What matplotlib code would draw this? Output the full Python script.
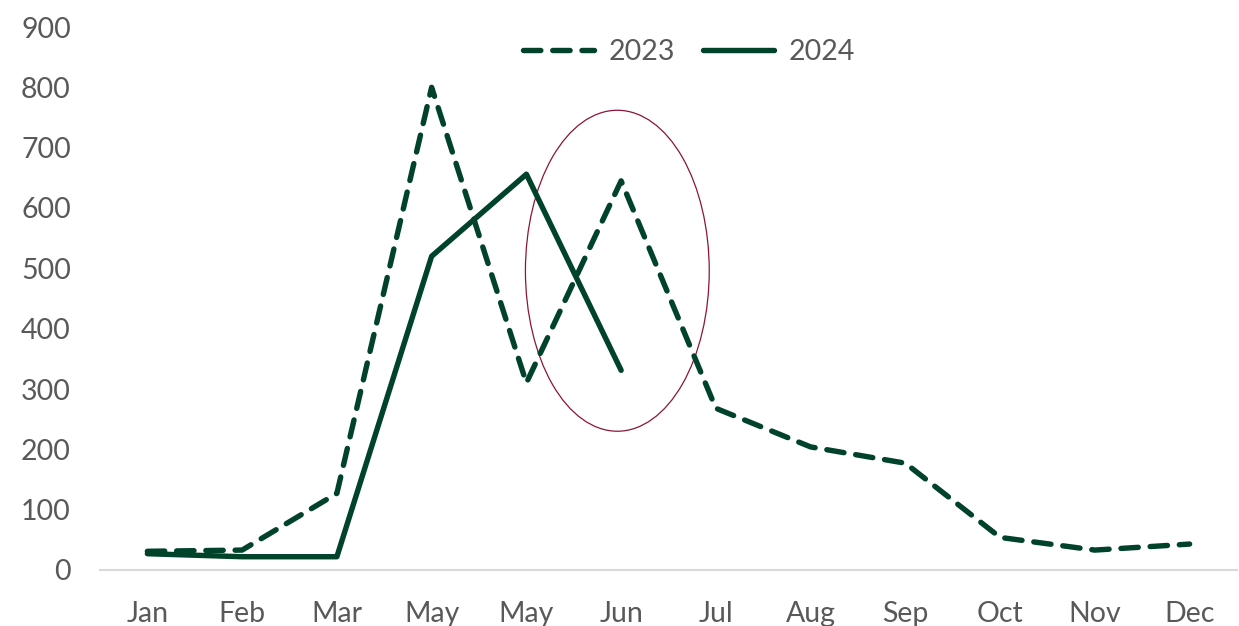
import matplotlib.pyplot as plt
from matplotlib.patches import Ellipse

months = ["Jan", "Feb", "Mar", "May", "May", "Jun", "Jul", "Aug", "Sep", "Oct", "Nov", "Dec"]
sales_2023 = [31, 33, 127, 800, 310, 645, 268, 204, 177, 54, 33, 43]
sales_2024 = [27, 22, 22, 520, 656, 331]

green = "#00432A"
grey = "#595959"

plt.rcParams['font.family'] = ['Lato', 'DejaVu Sans']

fig = plt.figure(figsize=(12.39, 6.26), dpi=100)
ax = fig.add_axes([100 / 1239, 56 / 626, 1137 / 1239, 543 / 626])

x23 = list(range(len(sales_2023)))
x24 = list(range(len(sales_2024)))
ax.plot(x23, sales_2023, color=green, lw=3.9, linestyle=(0, (3.2, 2.2)),
        dash_capstyle="round", solid_joinstyle="round", label="2023")
ax.plot(x24, sales_2024, color=green, lw=3.9, solid_capstyle="round",
        solid_joinstyle="round", label="2024")

# highlight around June
ax.add_patch(Ellipse((4.96, 496), 1.94, 532, fill=False, edgecolor="#8B1538", lw=0.9))

ax.set_xlim(-0.5, 11.5)
ax.set_ylim(0, 900)
ax.set_yticks(range(0, 1000, 100))
ax.set_xticks(x23)
ax.set_xticklabels(months)
ax.tick_params(axis="both", length=0, labelsize=20.5, labelcolor=grey)
ax.tick_params(axis="x", pad=22)
ax.tick_params(axis="y", pad=21)

for side in ["top", "right", "left"]:
    ax.spines[side].set_visible(False)
ax.spines["bottom"].set_color("#D9D9D9")
ax.spines["bottom"].set_linewidth(1.5)

leg = fig.legend(loc="center", bbox_to_anchor=(0.556, 0.917), ncol=2, frameon=False,
                 fontsize=20.5, handlelength=2.5, handletextpad=0.5, columnspacing=1.0)
for t in leg.get_texts():
    t.set_color(grey)

fig.savefig("out.png", dpi=100)
